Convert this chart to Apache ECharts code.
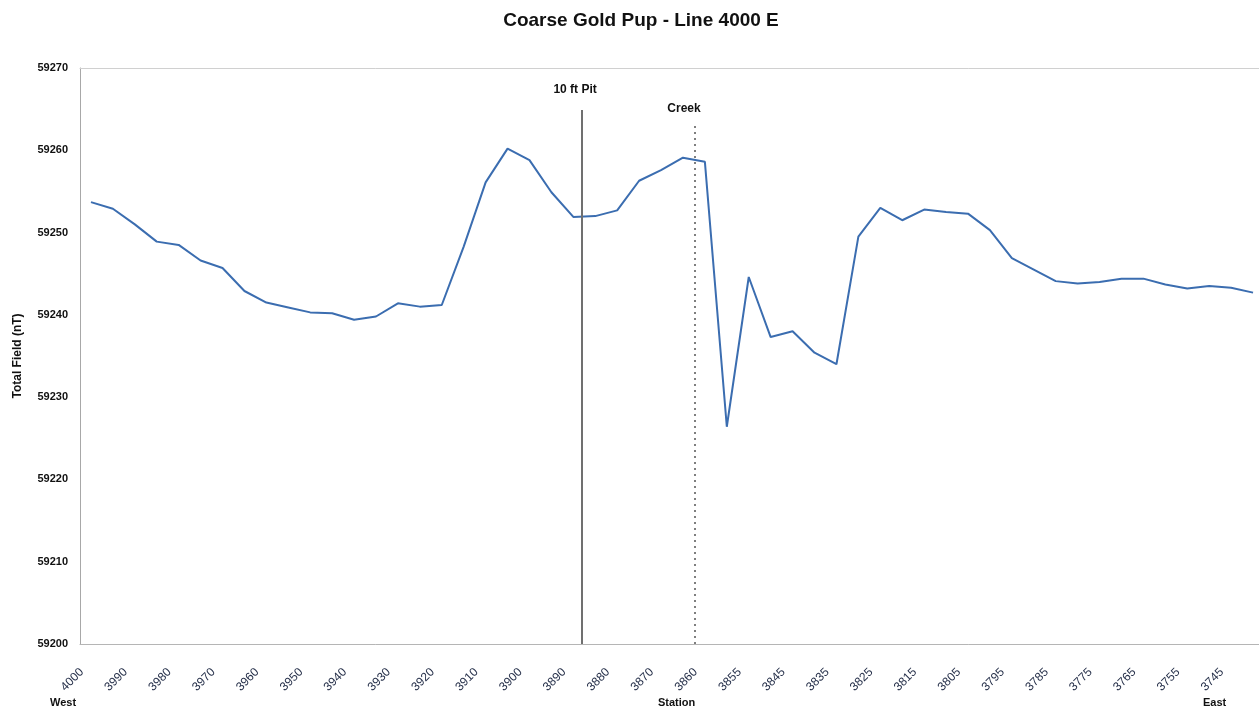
<!DOCTYPE html>
<html>
<head>
<meta charset="utf-8">
<title>Coarse Gold Pup - Line 4000 E</title>
<script src="https://cdn.jsdelivr.net/npm/echarts@6/dist/echarts.min.js"></script>
<style>
  html, body { margin: 0; padding: 0; background: #fff; overflow: hidden; }
  /* plot runs slightly past the right edge of the page */
  #chart { width: 1264px; height: 717px; }
</style>
</head>
<body>
<div id="chart"></div>
<script>
// Station numbers along the line (west to east), every 5 m, with one infill reading near the creek
const stations = [
  '4000','3995','3990','3985','3980','3975','3970','3965','3960','3955',
  '3950','3945','3940','3935','3930','3925','3920','3915','3910','3905',
  '3900','3895','3890','3885','3880','3875','3870','3865','3860','3858',
  '3855','3850','3845','3840','3835','3830','3825','3820','3815','3810',
  '3805','3800','3795','3790','3785','3780','3775','3770','3765','3760',
  '3755','3750','3745','3740'
];

// Total magnetic field readings (nT)
const totalField = [
  59253.7, 59252.9, 59251.0, 59248.9, 59248.5, 59246.6, 59245.7, 59242.9, 59241.5, 59240.9,
  59240.3, 59240.2, 59239.4, 59239.8, 59241.4, 59241.0, 59241.2, 59248.3, 59256.1, 59260.2,
  59258.8, 59254.9, 59251.9, 59252.0, 59252.7, 59256.3, 59257.6, 59259.1, 59258.6, 59226.4,
  59244.6, 59237.3, 59238.0, 59235.4, 59234.0, 59249.5, 59253.0, 59251.5, 59252.8, 59252.5,
  59252.3, 59250.3, 59246.9, 59245.5, 59244.1, 59243.8, 59244.0, 59244.4, 59244.4, 59243.7,
  59243.2, 59243.5, 59243.3, 59242.7
];

// Y axis range and step (nT)
const yMin = 59200;
const yMax = 59270;
const yStep = 10;

// Field features, located by position along the station index
const featureNames = ['10 ft Pit', 'Creek'];
const featurePos = [22.4, 27.55];
const featureTop = [59264.9, 59263.1];
const featureLabelShift = [[-7, -5], [-11, -5]];

const chart = echarts.init(document.getElementById('chart'), null, { renderer: 'canvas' });

const labelFont = 'Liberation Sans, Arial, sans-serif';

const featureLines = featureNames.map((name, i) => {
  const dotted = i === 1;
  return [
    { coord: [featurePos[i], yMin] },
    {
      coord: [featurePos[i], featureTop[i]],
      label: {
        show: true,
        position: 'end',
        formatter: name,
        distance: dotted ? 5 : 9,
        offset: featureLabelShift[i],
        fontFamily: labelFont,
        fontWeight: 'bold',
        fontSize: 12,
        color: '#111'
      },
      lineStyle: dotted
        ? { color: '#555', width: 1.5, type: [2, 4] }
        : { color: '#707070', width: 2, type: 'solid' }
    }
  ];
});

chart.setOption({
  animation: false,
  backgroundColor: '#ffffff',
  title: {
    text: 'Coarse Gold Pup - Line 4000 E',
    left: 636,
    textAlign: 'center',
    top: 6,
    textStyle: {
      fontFamily: labelFont,
      fontWeight: 'bold',
      fontSize: 19,
      color: '#111'
    }
  },
  grid: {
    left: 80,
    right: 0,
    top: 68,
    bottom: 73,
    show: false
  },
  xAxis: [
    {
      type: 'category',
      data: stations,
      boundaryGap: true,
      axisLine: { show: true, lineStyle: { color: '#b5b5b5', width: 1 } },
      axisTick: { show: false },
      splitLine: { show: false },
      axisLabel: {
        interval: 1,
        rotate: 45,
        margin: 17,
        padding: [0, 13, 0, 0],
        fontFamily: labelFont,
        fontSize: 12,
        color: '#26304a'
      }
    },
    {
      type: 'value',
      position: 'top',
      min: -0.5,
      max: stations.length - 0.5,
      axisLine: { show: true, onZero: false, lineStyle: { color: '#d0d0d0', width: 1 } },
      axisTick: { show: false },
      axisLabel: { show: false },
      splitLine: { show: false }
    }
  ],
  yAxis: {
    type: 'value',
    min: yMin,
    max: yMax,
    interval: yStep,
    name: 'Total Field (nT)',
    nameLocation: 'middle',
    nameGap: 56,
    nameRotate: 90,
    nameTextStyle: {
      fontFamily: labelFont,
      fontWeight: 'bold',
      fontSize: 12,
      color: '#111'
    },
    axisLine: { show: true, onZero: false, lineStyle: { color: '#a8a8a8', width: 1 } },
    axisTick: { show: false },
    splitLine: { show: false },
    axisLabel: {
      margin: 12,
      fontFamily: labelFont,
      fontWeight: 'bold',
      fontSize: 11,
      color: '#111',
      formatter: (v) => String(v)
    }
  },
  series: [
    {
      name: 'Total Field',
      type: 'line',
      data: totalField,
      symbol: 'none',
      smooth: false,
      lineStyle: { color: '#3b6db0', width: 2 },
      z: 3
    },
    {
      name: 'Features',
      type: 'line',
      xAxisIndex: 1,
      data: [],
      markLine: {
        silent: true,
        symbol: ['none', 'triangle'],
        symbolSize: [0, 7],
        precision: 2,
        data: featureLines
      },
      z: 2
    }
  ],
  graphic: [
    {
      type: 'text',
      left: 50,
      top: 697,
      style: { text: 'West', font: 'bold 11px ' + labelFont, fill: '#111' }
    },
    {
      type: 'text',
      left: 658,
      top: 697,
      style: { text: 'Station', font: 'bold 11px ' + labelFont, fill: '#111' }
    },
    {
      type: 'text',
      left: 1203,
      top: 697,
      style: { text: 'East', font: 'bold 11px ' + labelFont, fill: '#111' }
    }
  ]
});
</script>
</body>
</html>
